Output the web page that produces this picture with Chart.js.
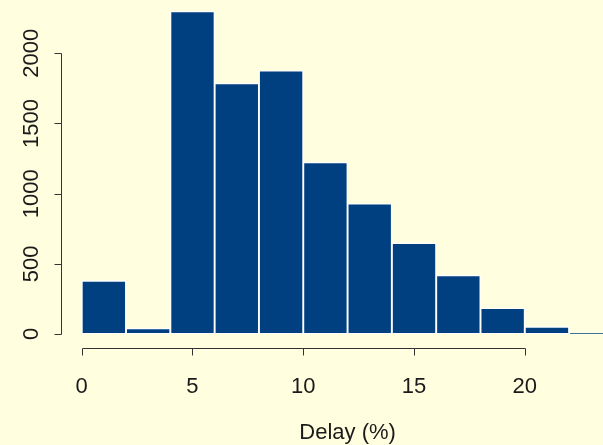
<!DOCTYPE html>
<html>
<head>
<meta charset="utf-8">
<script src="https://cdn.jsdelivr.net/npm/chart.js@4/dist/chart.umd.min.js"></script>
<style>
  html, body { margin: 0; padding: 0; background: #ffffe0; }
  #wrap { width: 603px; height: 445px; position: relative; }
</style>
</head>
<body>
<div id="wrap"><canvas id="delayHist"></canvas></div>
<script>
// histogram bins (2% wide) and their counts
const binStarts = [0, 2, 4, 6, 8, 10, 12, 14, 16, 18, 20, 22];
const binWidth = 2;
const counts = [380, 40, 2300, 1787, 1877, 1224, 929, 649, 418, 185, 52, 8];
const xTicks = [0, 5, 10, 15, 20];
const yTicks = [0, 500, 1000, 1500, 2000];
const xTitle = 'Delay (%)';

const font = '22px "Liberation Sans", Arial, sans-serif';
const ink = '#1a1a1a';

// base-graphics style axes, drawn off the chart's own scales
const rAxes = {
  id: 'rAxes',
  afterDraw(chart) {
    const { ctx, scales: { x, y } } = chart;
    ctx.save();
    ctx.strokeStyle = '#333';
    ctx.lineWidth = 1;
    ctx.fillStyle = ink;
    ctx.font = font;

    // y axis
    const ax = 61.5;
    ctx.beginPath();
    ctx.moveTo(ax, Math.round(y.getPixelForValue(yTicks[0])) + 0.5);
    ctx.lineTo(ax, Math.round(y.getPixelForValue(yTicks[yTicks.length - 1])) + 0.5);
    yTicks.forEach(v => {
      const py = Math.round(y.getPixelForValue(v)) + 0.5;
      ctx.moveTo(ax, py);
      ctx.lineTo(ax - 7, py);
    });
    ctx.stroke();
    ctx.textAlign = 'center';
    ctx.textBaseline = 'middle';
    yTicks.forEach(v => {
      ctx.save();
      ctx.translate(32, y.getPixelForValue(v));
      ctx.rotate(-Math.PI / 2);
      ctx.fillText(String(v), 0, 0);
      ctx.restore();
    });

    // x axis
    const ay = 348.5;
    ctx.beginPath();
    ctx.moveTo(Math.round(x.getPixelForValue(xTicks[0])) + 0.5, ay);
    ctx.lineTo(Math.round(x.getPixelForValue(xTicks[xTicks.length - 1])) + 0.5, ay);
    xTicks.forEach(v => {
      const px = Math.round(x.getPixelForValue(v)) + 0.5;
      ctx.moveTo(px, ay);
      ctx.lineTo(px, ay + 7);
    });
    ctx.stroke();
    xTicks.forEach(v => {
      ctx.fillText(String(v), x.getPixelForValue(v), 387);
    });

    // title sits in the middle of the full plot region
    ctx.fillText(xTitle, x.getPixelForValue(12), 433);
    ctx.restore();
  }
};

new Chart(document.getElementById('delayHist'), {
  type: 'bar',
  data: {
    datasets: [{
      data: binStarts.map((b, i) => ({ x: b + binWidth / 2, y: counts[i] })),
      backgroundColor: '#003f80',
      borderColor: '#ffffff',
      borderWidth: 1.3,
      borderSkipped: false,
      barPercentage: 1,
      categoryPercentage: 1
    }]
  },
  options: {
    responsive: true,
    maintainAspectRatio: false,
    animation: false,
    layout: { padding: { left: 60, right: 0, top: 0, bottom: 98 } },
    plugins: { legend: { display: false }, tooltip: { enabled: false } },
    scales: {
      x: { type: 'linear', min: -0.98, max: 23.53, offset: false, display: false },
      y: { type: 'linear', min: -92.7, max: 2380, display: false }
    }
  },
  plugins: [rAxes]
});
</script>
</body>
</html>
